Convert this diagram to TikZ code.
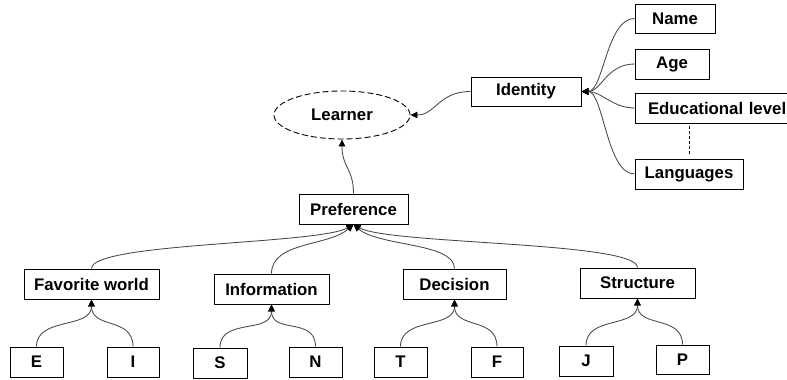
\documentclass[tikz,border=0pt]{standalone}
\usepackage{fontspec}
\setmainfont{Liberation Sans}
\usetikzlibrary{arrows.meta,shapes.geometric}
\begin{document}
\begin{tikzpicture}[x=1pt,y=-1pt,
  lbl/.style={font=\fontsize{16.8}{19}\selectfont\bfseries},
  box/.style={lbl,draw=black,line width=0.9pt,inner sep=0pt,minimum height=30pt},
  link/.style={draw=black!72,line width=0.85pt},
  tip/.style={-{Triangle[length=7pt,width=6.5pt,fill=black,color=black]}}]
\useasboundingbox (0,0) rectangle (787,380);

% concept root
\node[lbl,draw,ellipse,dashed,dash pattern=on 6pt off 3pt,line width=0.9pt,minimum width=136pt,minimum height=48pt,inner sep=0pt] (learner) at (342,115) {Learner};

% identity branch
\node[box,minimum width=110pt,minimum height=29pt] (identity) at (526,91.5) {Identity};
\node[box,minimum width=80pt,minimum height=29pt] (name) at (675,18.5) {Name};
\node[box,minimum width=74pt] (age) at (672,64) {Age};
\node[box,inner xsep=13pt,text width=146pt,align=left] (edu) at (721,108) {Educational level};
\node[box,minimum width=108pt] (lang) at (689,174) {Languages};

% preference branch
\node[box,minimum width=109pt] (pref) at (353.5,209) {Preference};
\node[box,minimum width=135pt] (fav) at (91.5,284) {Favorite world};
\node[box,minimum width=115pt] (info) at (271.5,289) {Information};
\node[box,minimum width=103pt] (dec) at (454.5,284) {Decision};
\node[box,minimum width=115pt] (struct) at (637.5,283) {Structure};

\node[box,minimum width=53pt] (e) at (36.5,362) {E};
\node[box,minimum width=52pt] (i) at (133,362) {I};
\node[box,minimum width=54pt] (s) at (220,363) {S};
\node[box,minimum width=53pt] (n) at (315.5,362) {N};
\node[box,minimum width=53pt] (t) at (400.5,362) {T};
\node[box,minimum width=52pt] (f) at (497,362) {F};
\node[box,minimum width=54pt] (j) at (586,361) {J};
\node[box,minimum width=53pt,minimum height=29pt] (p) at (682.5,359.5) {P};

% junction points
\coordinate (idj) at (identity.east);
\coordinate (prj) at (pref.south);

% identity attributes
\draw[link,tip] (name.west) .. controls +(-28,0) and +(22,0) .. (idj);
\draw[link,tip] (age.west) .. controls +(-28,0) and +(20,0) .. (idj);
\draw[link,tip] (edu.west) .. controls +(-22,0) and +(20,0) .. (idj);
\draw[link,tip] (lang.west) .. controls +(-28,0) and +(22,0) .. (idj);
\draw[black,line width=0.6pt,dashed,dash pattern=on 3pt off 2pt] ([yshift=-3pt]edu.south -| lang.north) -- ([yshift=3pt]lang.north);

% links to the learner
\draw[link,tip] (identity.west) .. controls +(-32,0) and +(25,0) .. (learner.east);
\draw[link,tip] (pref.north) .. controls +(0,-25) and +(0,28) .. (learner.south);

% preference dimensions
\draw[link,tip] (fav.north) .. controls +(0,-26) and +(-35,20) .. (prj);
\draw[link,tip] (info.north) .. controls +(0,-32) and +(-25,22) .. (prj);
\draw[link,tip] (dec.north) .. controls +(0,-26) and +(25,22) .. (prj);
\draw[link,tip] (struct.north) .. controls +(0,-26) and +(35,20) .. (prj);

% poles
\draw[link,tip] (e.north) .. controls +(0,-30) and +(0,30) .. (fav.south);
\draw[link,tip] (i.north) .. controls +(0,-30) and +(0,30) .. (fav.south);
\draw[link,tip] (s.north) .. controls +(0,-30) and +(0,30) .. (info.south);
\draw[link,tip] (n.north) .. controls +(0,-30) and +(0,30) .. (info.south);
\draw[link,tip] (t.north) .. controls +(0,-30) and +(0,30) .. (dec.south);
\draw[link,tip] (f.north) .. controls +(0,-30) and +(0,30) .. (dec.south);
\draw[link,tip] (j.north) .. controls +(0,-30) and +(0,30) .. (struct.south);
\draw[link,tip] (p.north) .. controls +(0,-30) and +(0,30) .. (struct.south);
\end{tikzpicture}
\end{document}
